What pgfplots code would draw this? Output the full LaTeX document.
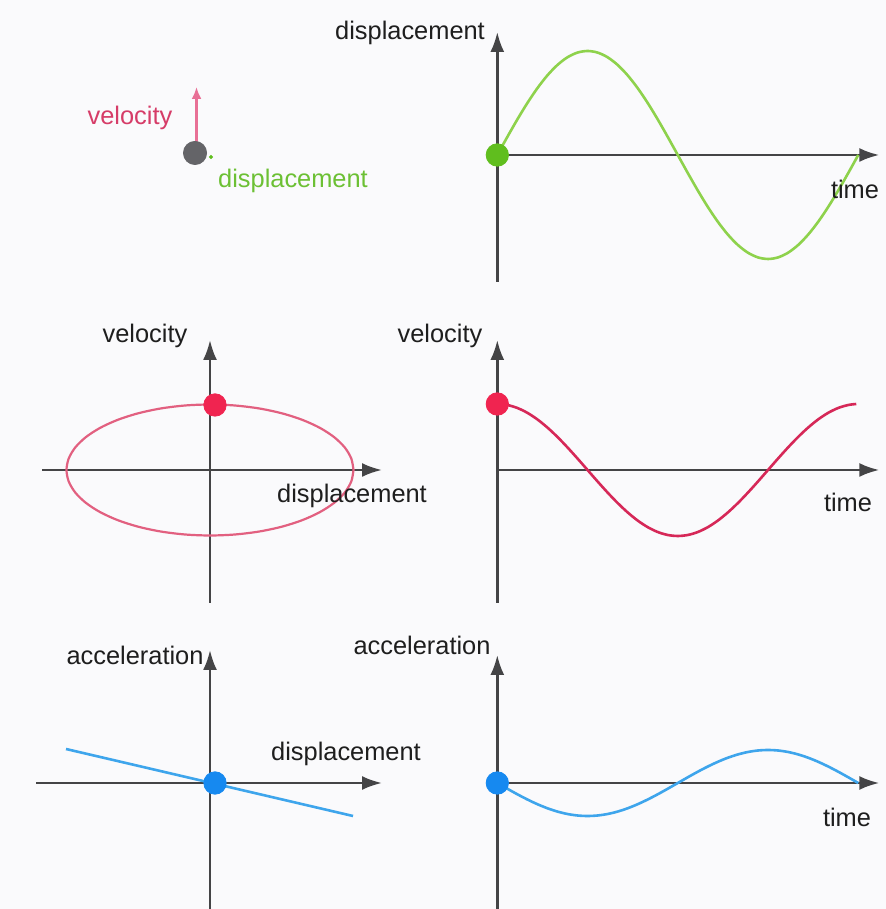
\documentclass[border=0pt]{standalone}
\usepackage{pgfplots}
\pgfplotsset{compat=1.18}
\usetikzlibrary{arrows.meta}
\usepackage{fontspec}
\setmainfont{Liberation Sans}
\definecolor{bg}{RGB}{250,250,252}
\definecolor{axisgray}{RGB}{68,68,70}
\definecolor{txt}{RGB}{30,30,30}
\definecolor{grn}{RGB}{142,210,76}
\definecolor{grndot}{RGB}{96,190,30}
\definecolor{grntxt}{RGB}{108,192,52}
\definecolor{velred}{RGB}{214,40,88}
\definecolor{reddot}{RGB}{240,36,80}
\definecolor{ellpink}{RGB}{226,96,128}
\definecolor{pinkarrow}{RGB}{232,112,150}
\definecolor{pinktxt}{RGB}{214,60,104}
\definecolor{blu}{RGB}{62,165,236}
\definecolor{bludot}{RGB}{22,137,240}
\definecolor{dotgray}{RGB}{100,100,104}
\newcommand{\lab}{\fontsize{12.7}{15}\selectfont}
\begin{document}
\begin{tikzpicture}[x=0.5pt,y=0.5pt]
\fill[bg] (0,0) rectangle (886,909);
\pgfplotsset{
  phys/.style={scale only axis, axis lines=middle, xtick=\empty, ytick=\empty, clip=false,
    axis line style={draw=axisgray, line width=1.3pt, -{Latex[length=10pt,width=7pt]}},
    anchor=south west},
  curve/.style={smooth, line width=1.3pt, no marks},
  dot/.style={only marks, mark=*, mark size=5.6pt},
}
% ---- top-right: displacement vs time (also holds the top-left schematic, drawn outside the box)
\begin{axis}[phys, at={(496,627)}, width=191pt, height=125pt,
  xmin=0, xmax=381, ymin=-127, ymax=123]
\addplot[curve, color=grn] coordinates {
(0,0) (10,18.06) (20,35.57) (30,52) (40,66.85) (50,79.66) (60,90.06) (70,97.73) (80,102.42) (90,104)
(100,102.42) (110,97.73) (120,90.06) (130,79.66) (140,66.85) (150,52) (160,35.57) (170,18.06) (180,0)
(190,-18.06) (200,-35.57) (210,-52) (220,-66.85) (230,-79.66) (240,-90.06) (250,-97.73) (260,-102.42) (270,-104)
(280,-102.42) (290,-97.73) (300,-90.06) (310,-79.66) (320,-66.85) (330,-52) (340,-35.57) (350,-18.06) (360,0)};
\addplot[dot, color=grndot] coordinates {(0,0)};
% schematic: velocity arrow and mass
\addplot[draw=pinkarrow, line width=1.2pt, -{Latex[length=6pt,width=5pt]}, no marks] coordinates {(-300,8) (-300,68)};
\addplot[dot, color=dotgray, mark size=5.8pt] coordinates {(-301.5,2)};
\addplot[only marks, mark=*, mark size=0.8pt, color=grndot] coordinates {(-285.5,-2)};
\end{axis}
% ---- middle-left: velocity vs displacement
\begin{axis}[phys, at={(42,306)}, width=170pt, height=131.5pt,
  xmin=-168, xmax=172, ymin=-133, ymax=130]
\addplot[smooth, line width=1.1pt, no marks, color=ellpink] coordinates {
(143.5,0) (141.32,11.37) (134.85,22.40) (124.27,32.75) (109.93,42.10) (92.24,50.17) (71.75,56.72) (49.08,61.55) (24.92,64.50) (0,65.5)
(-24.92,64.50) (-49.08,61.55) (-71.75,56.72) (-92.24,50.17) (-109.93,42.10) (-124.27,32.75) (-134.85,22.40) (-141.32,11.37) (-143.5,0)
(-141.32,-11.37) (-134.85,-22.40) (-124.27,-32.75) (-109.93,-42.10) (-92.24,-50.17) (-71.75,-56.72) (-49.08,-61.55) (-24.92,-64.50) (0,-65.5)
(24.92,-64.50) (49.08,-61.55) (71.75,-56.72) (92.24,-50.17) (109.93,-42.10) (124.27,-32.75) (134.85,-22.40) (141.32,-11.37) (143.5,0)};
\addplot[dot, color=reddot] coordinates {(5,65)};
\end{axis}
% ---- middle-right: velocity vs time
\begin{axis}[phys, at={(496,306)}, width=191pt, height=131.5pt,
  xmin=0, xmax=381, ymin=-133, ymax=130]
\addplot[curve, color=velred] coordinates {
(0,66) (10,65.00) (20,62.02) (30,57.16) (40,50.56) (50,42.42) (60,33) (70,22.57) (80,11.46) (90,0)
(100,-11.46) (110,-22.57) (120,-33) (130,-42.42) (140,-50.56) (150,-57.16) (160,-62.02) (170,-65.00) (180,-66)
(190,-65.00) (200,-62.02) (210,-57.16) (220,-50.56) (230,-42.42) (240,-33) (250,-22.57) (260,-11.46) (270,0)
(280,11.46) (290,22.57) (300,33) (310,42.42) (320,50.56) (330,57.16) (340,62.02) (350,65.00) (358,66)};
\addplot[dot, color=reddot] coordinates {(0,66)};
\end{axis}
% ---- bottom-left: acceleration vs displacement
\begin{axis}[phys, at={(36,0)}, width=173pt, height=129.5pt,
  xmin=-174, xmax=172, ymin=-126, ymax=133]
\addplot[line width=1.3pt, no marks, color=blu] coordinates {(-144,34) (143,-33)};
\addplot[dot, color=bludot] coordinates {(5,0)};
\end{axis}
% ---- bottom-right: acceleration vs time
\begin{axis}[phys, at={(496,0)}, width=191pt, height=127pt,
  xmin=0, xmax=381, ymin=-126, ymax=128]
\addplot[curve, color=blu] coordinates {
(0,0) (10,-5.73) (20,-11.29) (30,-16.5) (40,-21.21) (50,-25.28) (60,-28.58) (70,-31.01) (80,-32.50) (90,-33)
(100,-32.50) (110,-31.01) (120,-28.58) (130,-25.28) (140,-21.21) (150,-16.5) (160,-11.29) (170,-5.73) (180,0)
(190,5.73) (200,11.29) (210,16.5) (220,21.21) (230,25.28) (240,28.58) (250,31.01) (260,32.50) (270,33)
(280,32.50) (290,31.01) (300,28.58) (310,25.28) (320,21.21) (330,16.5) (340,11.29) (350,5.73) (360,0)};
\addplot[dot, color=bludot] coordinates {(0,0)};
\end{axis}
% ---- labels
\begin{scope}[every node/.style={font=\lab, text=txt, inner sep=0pt}]
\node at (410,876) {displacement};
\node at (855,720) {time};
\node at (145,573) {velocity};
\node at (352,413) {displacement};
\node at (440,573) {velocity};
\node at (848,407) {time};
\node at (135,254) {acceleration};
\node at (346,155) {displacement};
\node at (422,264) {acceleration};
\node at (847,92) {time};
\node[text=pinktxt] at (130,791) {velocity};
\node[text=grntxt] at (293,728) {displacement};
\end{scope}
\pgfresetboundingbox
\path (0,0) rectangle (886,909);
\end{tikzpicture}
\end{document}
